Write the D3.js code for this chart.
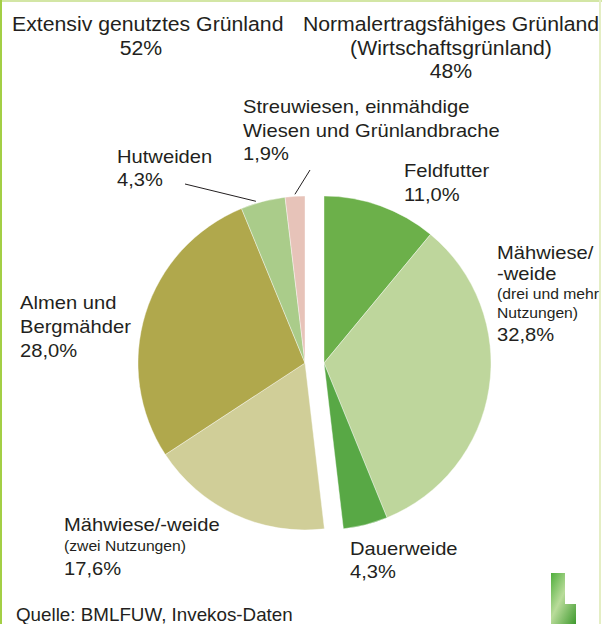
<!DOCTYPE html>
<html>
<head>
<meta charset="utf-8">
<script src="https://cdn.jsdelivr.net/npm/d3@7"></script>
<style>
  body { margin: 0; background: #fff; }
  text { font-family: "Liberation Sans", Arial, sans-serif; fill: #231f20; }
</style>
</head>
<body>
<svg width="602" height="624"></svg>
<script>
// data
const categories = ["Feldfutter", "Mähwiese drei", "Dauerweide", "Mähwiese zwei", "Almen", "Hutweiden", "Streuwiesen"];
const shares = [11.0, 32.8, 4.3, 17.6, 28.0, 4.3, 1.9];
const groups = ["normal", "normal", "normal", "extensiv", "extensiv", "extensiv", "extensiv"];
const groupTitles = [["Extensiv genutztes Grünland", "52%"], ["Normalertragsfähiges Grünland", "(Wirtschaftsgrünland)", "48%"]];
const sliceLabels = [
  ["Feldfutter", "11,0%"],
  ["Mähwiese/", "-weide", "(drei und mehr", "Nutzungen)", "32,8%"],
  ["Dauerweide", "4,3%"],
  ["Mähwiese/-weide", "(zwei Nutzungen)", "17,6%"],
  ["Almen und", "Bergmähder", "28,0%"],
  ["Hutweiden", "4,3%"],
  ["Streuwiesen, einmähdige", "Wiesen und Grünlandbrache", "1,9%"]
];
const source = "Quelle: BMLFUW, Invekos-Daten";

// styles / layout
const colors = ["#6cb04a", "#bed69c", "#58a845", "#d0ce98", "#b0a84c", "#aacc8a", "#e7c3b9"];
const centers = { normal: [324, 363], extensiv: [305, 363] };
const radius = 167;
const stretch = 1.12;   // the original type is a bit wider than Liberation Sans
// label layout: x, first baseline, line gaps, font sizes per line
const labelLayout = [
  { x: 404, y: 177, lines: [0, 24], size: [18, 18] },
  { x: 497, y: 259, lines: [0, 21, 19, 19, 23], size: [18, 18, 14, 14, 18] },
  { x: 350, y: 555, lines: [0, 23], size: [18, 18] },
  { x: 64, y: 531, lines: [0, 20, 24], size: [18, 14, 18] },
  { x: 20, y: 309, lines: [0, 24, 24], size: [18, 18, 18] },
  { x: 117, y: 163, lines: [0, 23], size: [18, 18], leader: [185, 184] },
  { x: 243, y: 113, lines: [0, 24, 23], size: [18, 18, 18], leader: [310, 170] }
];

var svg = d3.select("svg");

// frame
svg.append("rect").attr("x", 0).attr("y", 0).attr("width", 602).attr("height", 2).attr("fill", "#d3e6a5");
svg.append("rect").attr("x", 0).attr("y", 0).attr("width", 2).attr("height", 624).attr("fill", "#a3cf45");
svg.append("rect").attr("x", 599).attr("y", 0).attr("width", 2).attr("height", 624).attr("fill", "#e4eec4");

var pie = d3.pie().sort(null).value(d => d);
var arcs = pie(shares);
var arc = d3.arc().innerRadius(0).outerRadius(radius);

svg.append("g")
    .selectAll("path")
    .data(arcs)
    .enter().append("path")
    .attr("transform", (d, i) => "translate(" + centers[groups[i]] + ")")
    .attr("d", arc)
    .attr("fill", (d, i) => colors[i])
    .attr("stroke", "#fff")
    .attr("stroke-width", 0.4);

// leader lines
arcs.forEach(function (d, i) {
  var lay = labelLayout[i];
  if (!lay.leader) return;
  var c = centers[groups[i]];
  var a = (d.startAngle + d.endAngle) / 2 - (i == 5 ? 0.04 : 0);
  var r = radius + 2;
  svg.append("line")
      .attr("x1", lay.leader[0]).attr("y1", lay.leader[1])
      .attr("x2", c[0] + r * Math.sin(a)).attr("y2", c[1] - r * Math.cos(a))
      .attr("stroke", "#231f20")
      .attr("stroke-width", 1);
});

// slice labels
sliceLabels.forEach(function (lines, i) {
  var lay = labelLayout[i];
  var t = svg.append("text")
      .attr("transform", "translate(" + lay.x + "," + lay.y + ") scale(" + stretch + ",1)");
  lines.forEach(function (s, j) {
    t.append("tspan")
        .attr("x", 0)
        .attr("dy", lay.lines[j])
        .style("font-size", lay.size[j] + "px")
        .text(s);
  });
});

// group titles
var titleLayout = [[{ x: 12, a: "start" }, { x: 141, a: "middle" }], [{ x: 451, a: "middle" }, { x: 451, a: "middle" }, { x: 451, a: "middle" }]];
groupTitles.forEach(function (lines, i) {
  lines.forEach(function (s, j) {
    var p = titleLayout[i][j];
    svg.append("text")
        .attr("transform", "translate(" + p.x + "," + (31 + j * 23.5) + ") scale(1.09,1)")
        .attr("text-anchor", p.a)
        .style("font-size", "19.5px")
        .text(s);
  });
});

svg.append("text")
    .attr("transform", "translate(16,621) scale(1.045,1)")
    .style("font-size", "18px")
    .text(source);

// small green logo bottom right
var defs = svg.append("defs");
var grad = defs.append("linearGradient").attr("id", "logo").attr("x1", 0).attr("y1", 0).attr("x2", 1).attr("y2", 1);
grad.append("stop").attr("offset", "0%").attr("stop-color", "#4fae3c");
grad.append("stop").attr("offset", "45%").attr("stop-color", "#b9dc9a");
grad.append("stop").attr("offset", "100%").attr("stop-color", "#3f9a2f");
svg.append("path")
    .attr("d", "M551,573 L565,573 L565,604 L576,604 L576,624 L551,624 Z")
    .attr("fill", "url(#logo)");
</script>
</body>
</html>
